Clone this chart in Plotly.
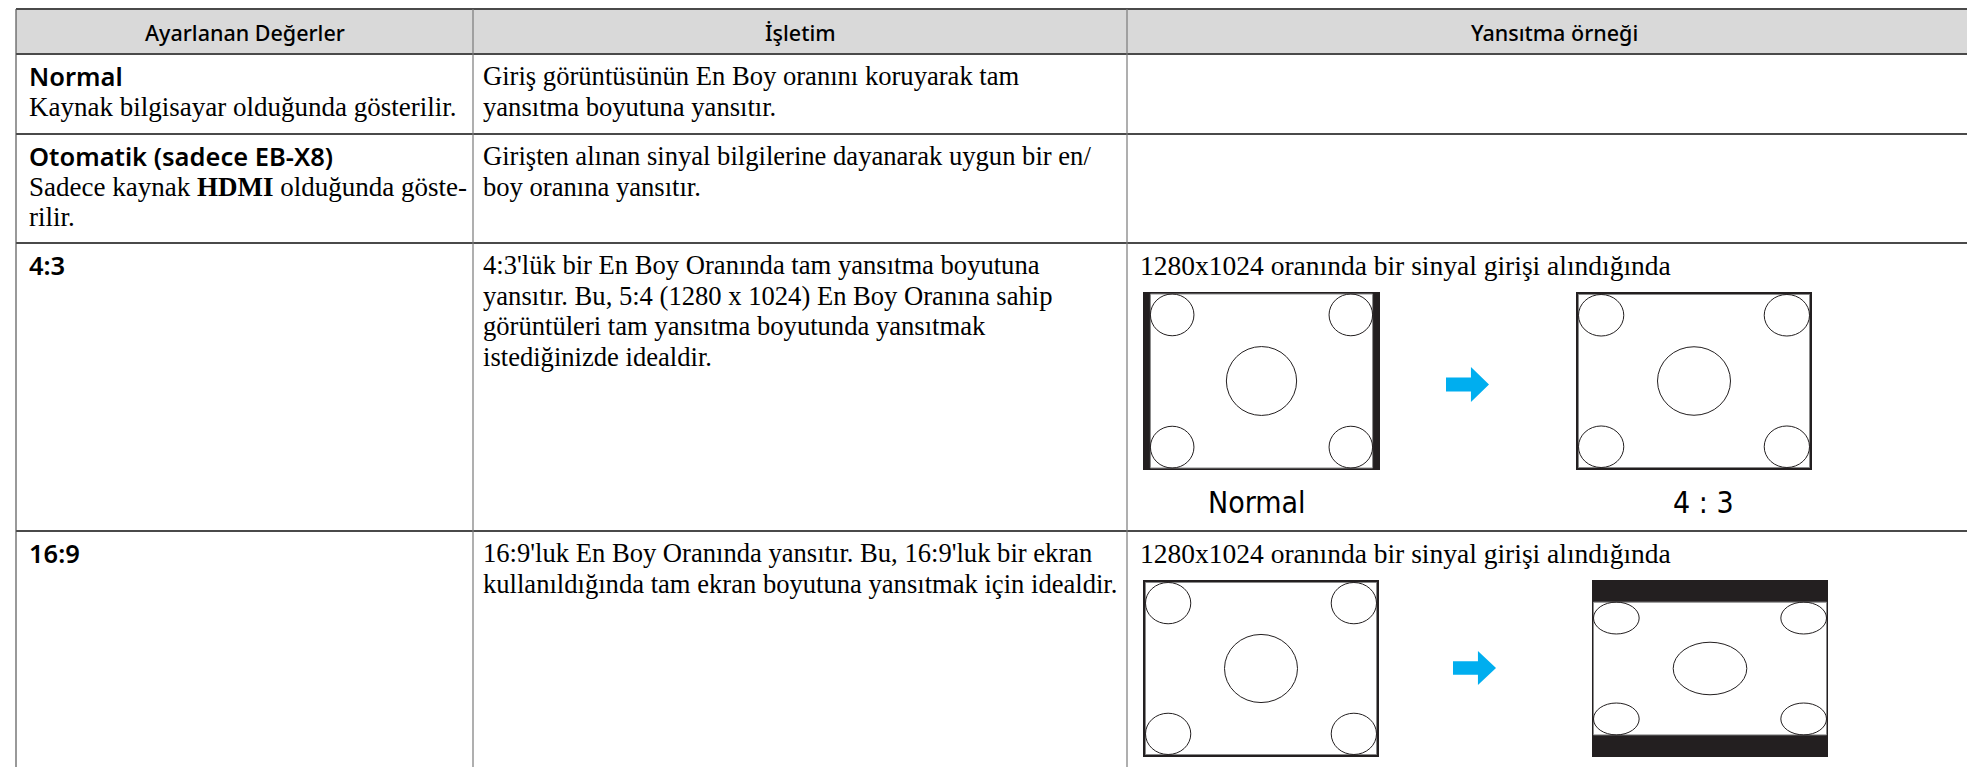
import plotly.graph_objects as go

# ------------------------------------------------------------------ data
headers = ["Ayarlanan Değerler", "İşletim", "Yansıtma örneği"]
setting_names = ["Normal", "Otomatik (sadece EB-X8)", "4:3", "16:9"]
setting_notes = [
    ["Kaynak bilgisayar olduğunda gösterilir."],
    ["Sadece kaynak <b>HDMI</b> olduğunda göste-", "rilir."],
    [],
    [],
]
operations = [
    ["Giriş görüntüsünün En Boy oranını koruyarak tam",
     "yansıtma boyutuna yansıtır."],
    ["Girişten alınan sinyal bilgilerine dayanarak uygun bir en/",
     "boy oranına yansıtır."],
    ["4:3'lük bir En Boy Oranında tam yansıtma boyutuna",
     "yansıtır. Bu, 5:4 (1280 x 1024) En Boy Oranına sahip",
     "görüntüleri tam yansıtma boyutunda yansıtmak",
     "istediğinizde idealdir."],
    ["16:9'luk En Boy Oranında yansıtır. Bu, 16:9'luk bir ekran",
     "kullanıldığında tam ekran boyutuna yansıtmak için idealdir."],
]
example_captions = ["", "",
                    "1280x1024 oranında bir sinyal girişi alındığında",
                    "1280x1024 oranında bir sinyal girişi alındığında"]
example_modes = [None, None, ("pillarbox", "stretch"), ("full", "letterbox")]
example_labels = [None, None, ("Normal", "4 : 3"), None]

# 5:4 test pattern (normalised image coordinates): centre u, v and radii
pattern_u = [0.098, 0.902, 0.098, 0.902, 0.5]
pattern_v = [0.12, 0.12, 0.88, 0.88, 0.5]
pattern_ru = [0.098, 0.098, 0.098, 0.098, 0.158]
pattern_rv = [0.12, 0.12, 0.12, 0.12, 0.198]

# ------------------------------------------------------------------ layout geometry
W, H = 1975, 767
col_x = [8, 465, 1119, 1973]
row_y = [1, 46, 126, 235, 523, 800]
PAD_X = [11, 8, 11]
FIRST_LINE = 22
LINE_H = 30.5

# diagram frames per example row: (left frame, right frame, arrow box, label y)
frames = {
    2: ((1135, 284, 1372, 462), (1568, 284, 1804, 462), (1438, 359, 1481, 394), 494),
    3: ((1135, 572, 1371, 749), (1584, 572, 1820, 749), (1445, 643, 1488, 677), None),
}
LABEL_SHIFT = (-5, 9)

SERIF = "Liberation Serif, Times New Roman, serif"
SANS = "Noto Sans, Open Sans, Lato, sans-serif"
NARROW = "Liberation Sans Narrow, DejaVu Sans Condensed, sans-serif"
INK = "#231f20"
GRID = "#7a7a7a"
ARROW = "#00aeef"

shapes = []
annotations = []


def line(x0, y0, x1, y1, color=GRID, width=1.2):
    shapes.append(dict(type="line", xref="x", yref="y", x0=x0, y0=y0, x1=x1, y1=y1,
                       line=dict(color=color, width=width), layer="above"))


def rect(x0, y0, x1, y1, fill, color=None, width=0):
    shapes.append(dict(type="rect", xref="x", yref="y", x0=x0, y0=y0, x1=x1, y1=y1,
                       fillcolor=fill, line=dict(color=color or fill, width=width),
                       layer="above"))


def text(x, y, s, font, size, xanchor="left", color="black", weight=None):
    f = dict(family=font, size=size, color=color)
    if weight:
        f["weight"] = weight
    annotations.append(dict(x=x, y=y, xref="x", yref="y", text=s, showarrow=False,
                            xanchor=xanchor, yanchor="middle", font=f))


# header background
rect(col_x[0], row_y[0], col_x[-1], row_y[1], "#d9d9d9")

# grid
for y in row_y[:-1]:
    line(col_x[0], y, col_x[-1], y, color="#4a4a4a", width=1.8)
for i, x in enumerate(col_x):
    last = i == len(col_x) - 1
    w = 2.6 if last else 1.2
    c = "#3a3a3a" if last else ("#555555" if i == 0 else GRID)
    line(x, row_y[0], x, H + 5, color=c, width=w)

# header text
for i, h in enumerate(headers):
    text((col_x[i] + col_x[i + 1]) / 2, (row_y[0] + row_y[1]) / 2 + 0.5, h, SANS, 21.5,
         xanchor="center", weight=500)

# body text
for r in range(len(setting_names)):
    top = row_y[r + 1]
    y0 = top + FIRST_LINE
    text(col_x[0] + PAD_X[0], y0, setting_names[r], SANS, 25.5, weight=600)
    for k, s in enumerate(setting_notes[r]):
        text(col_x[0] + PAD_X[0], y0 + LINE_H * (k + 1), s, SERIF, 27)
    for k, s in enumerate(operations[r]):
        text(col_x[1] + PAD_X[1], y0 + LINE_H * k, s, SERIF, 26.6)
    if example_captions[r]:
        text(col_x[2] + PAD_X[2], y0, example_captions[r], SERIF, 27.5)


def draw_pattern(x0, y0, x1, y1):
    w, h = x1 - x0, y1 - y0
    for u, v, ru, rv in zip(pattern_u, pattern_v, pattern_ru, pattern_rv):
        shapes.append(dict(type="circle", xref="x", yref="y",
                           x0=x0 + (u - ru) * w, x1=x0 + (u + ru) * w,
                           y0=y0 + (v - rv) * h, y1=y0 + (v + rv) * h,
                           line=dict(color=INK, width=1), fillcolor="rgba(0,0,0,0)",
                           layer="above"))


def draw_screen(box, mode):
    x0, y0, x1, y1 = box
    w, h = x1 - x0, y1 - y0
    rect(x0, y0, x1, y1, INK)
    if mode == "pillarbox":          # 5:4 inside 4:3
        f = (5 / 4) / (4 / 3)
        ix0, ix1 = x0 + w * (1 - f) / 2, x1 - w * (1 - f) / 2
        iy0, iy1 = y0 + 2, y1 - 2
    elif mode == "letterbox":        # 16:9 inside 4:3
        f = (4 / 3) / (16 / 9)
        ix0, ix1 = x0 + 1.5, x1 - 1.5
        iy0, iy1 = y0 + h * (1 - f) / 2, y1 - h * (1 - f) / 2
    else:                            # full / stretch
        ix0, ix1, iy0, iy1 = x0 + 2.5, x1 - 2.5, y0 + 2.5, y1 - 2.5
    rect(ix0, iy0, ix1, iy1, "white", color="#8a8a8a", width=1)
    draw_pattern(ix0, iy0, ix1, iy1)


def draw_arrow(box):
    x0, y0, x1, y1 = box
    yc = (y0 + y1) / 2
    h = y1 - y0
    xh = x0 + (x1 - x0) * 0.58
    bh = h * 0.2
    path = (f"M {x0},{yc - bh} L {xh},{yc - bh} L {xh},{y0} L {x1},{yc} "
            f"L {xh},{y1} L {xh},{yc + bh} L {x0},{yc + bh} Z")
    shapes.append(dict(type="path", xref="x", yref="y", path=path, fillcolor=ARROW,
                       line=dict(color=ARROW, width=0), layer="above"))


for r, modes in enumerate(example_modes):
    if not modes:
        continue
    left, right, arrow, label_y = frames[r]
    draw_screen(left, modes[0])
    draw_screen(right, modes[1])
    draw_arrow(arrow)
    if example_labels[r] and label_y:
        text((left[0] + left[2]) / 2 + LABEL_SHIFT[0], label_y, example_labels[r][0],
             NARROW, 30, xanchor="center")
        text((right[0] + right[2]) / 2 + LABEL_SHIFT[1], label_y, example_labels[r][1],
             NARROW, 30, xanchor="center")

fig = go.Figure()
fig.add_trace(go.Scatter(x=[0, W], y=[0, H], mode="markers",
                         marker=dict(opacity=0), hoverinfo="skip", showlegend=False))
fig.update_layout(
    width=W, height=H,
    margin=dict(l=0, r=0, t=0, b=0),
    paper_bgcolor="white", plot_bgcolor="white",
    xaxis=dict(range=[0, W], visible=False, fixedrange=True),
    yaxis=dict(range=[H, 0], visible=False, fixedrange=True),
    shapes=shapes, annotations=annotations, showlegend=False,
)
fig.write_html("out.html", config={"displayModeBar": False})
